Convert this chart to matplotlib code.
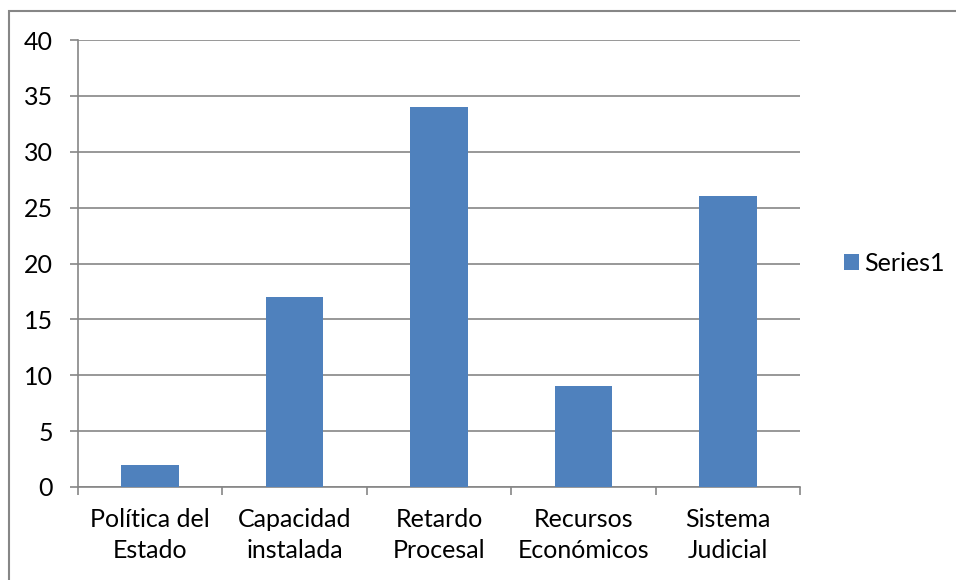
import numpy as np
import matplotlib.pyplot as plt
from matplotlib.patches import Rectangle

categories = ["Política del\nEstado", "Capacidad\ninstalada", "Retardo\nProcesal",
              "Recursos\nEconómicos", "Sistema\nJudicial"]
values = [2, 17, 34, 9, 26]
series_name = "Series1"

plt.rcParams['font.family'] = ['Lato', 'DejaVu Sans']

fig = plt.figure(figsize=(9.56, 5.8), dpi=100)
ax = fig.add_axes([78 / 956, 93 / 580, 722 / 956, 447 / 580])

x = np.arange(len(categories))
ax.bar(x, values, width=0.4, color='#4F81BD', label=series_name, zorder=3)

ax.set_xlim(-0.5, len(categories) - 0.5)
ax.set_ylim(0, 40)
ax.set_yticks(np.arange(0, 41, 5))
ax.yaxis.grid(True, color='#868686', lw=1.2, zorder=0)

ax.set_xticks(x)
ax.set_xticklabels(categories, fontsize=18, linespacing=1.45)
ax.set_xticks(np.arange(-0.5, len(categories), 1), minor=True)
ax.tick_params(axis='x', which='major', length=0, pad=15)
ax.tick_params(axis='x', which='minor', length=6, width=1.2, color='#868686', direction='out')
ax.tick_params(axis='y', length=6, width=1.2, color='#868686', labelsize=18, pad=12)

for side in ['top', 'right']:
    ax.spines[side].set_visible(False)
for side in ['left', 'bottom']:
    ax.spines[side].set_color('#868686')
    ax.spines[side].set_linewidth(1.2)

ax.legend(loc='center left', bbox_to_anchor=(1.037, 0.5), frameon=False, fontsize=18,
          handlelength=0.6, handleheight=0.6, handletextpad=0.2, borderpad=0.2)

fig.add_artist(Rectangle((9 / 956, -0.1), 1.5, (580 - 11) / 580 + 0.1,
                         transform=fig.transFigure, fill=False, edgecolor='#868686', lw=1.5))

fig.savefig('out.png', dpi=100)
